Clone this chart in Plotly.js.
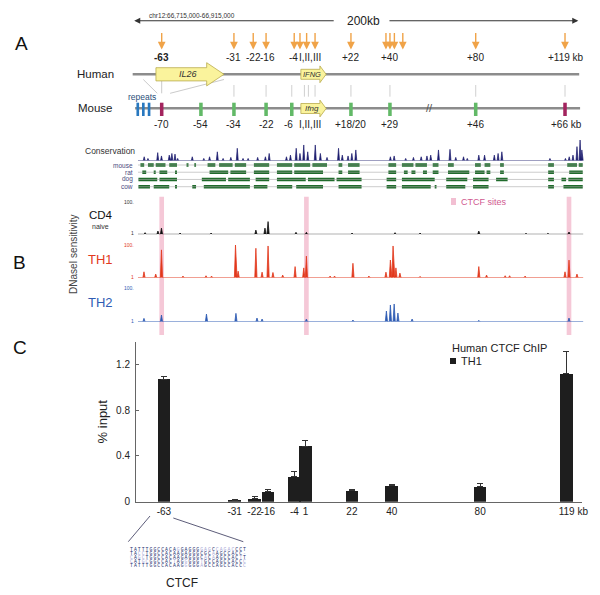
<!DOCTYPE html>
<html><head><meta charset="utf-8">
<script src="https://cdn.plot.ly/plotly-3.0.1.min.js"></script>
<style>html,body{margin:0;padding:0;background:#fff}#chart{width:600px;height:595px}</style>
</head><body><div id="chart"></div>
<script>
// ---------- Panel C: human CTCF ChIP (TH1), % input ----------
const chipSites  = [-63, -31, -22, -16, -4, 1, 22, 40, 80, 119];
const chipLabels = ['-63', '-31', '-22', '-16', '-4', '1', '22', '40', '80', '\u00A0\u00A0\u00A0\u00A0\u00A0119 kb'];
const chipTH1    = [1.07, 0.012, 0.026, 0.087, 0.218, 0.484, 0.096, 0.140, 0.131, 1.121];
const chipErr    = [0.023, 0.008, 0.021, 0.018, 0.044, 0.055, 0.014, 0.008, 0.024, 0.195];
const yTicks     = [0, 0.4, 0.8, 1.2];
const yTickText  = ['0', '0.4', '0.8', '1.2'];

// ---------- Panel A: map (kb relative to IFNG) ----------
const humanArrowKb = [-63, -30.4, -21.7, -15.9, -3.2, -0.6, 2.4, 6.2, 22.4, 38.2, 40.0, 42.0, 45.8, 78.7, 119];
const humanLabels  = ['<b>-63</b>', '-31', '-22', '-16', '-4', 'I,II,III', '+22', '+40', '+80', '+119 kb'];
const humanLabelKb = [-63, -30.4, -21.5, -15.3, -3.6, 3.9, 22.4, 40, 78.7, 119.5];
const homologyKb   = [-30.4, -15.9, -4.3, 1.4, 3.2, 6.2, 22.4, 40, 78.7, 119];
const repeatsKb    = [-73.8, -71.3, -68.7];
const mouseCtcfKb  = [-63, 119];
const mouseGreenKb = [-45.3, -30.4, -15.9, -4.3, 22.4, 40, 78.7];
const mouseLabels  = ['-70', '-54', '-34', '-22', '-6', 'I,II,III', '+18/20', '+29', '+46', '+66 kb'];
const mouseLabelKb = [-63, -45.3, -30.4, -15.9, -5.9, 3.9, 22.4, 40, 78.7, 119.5];

// ---------- Panel B: conservation + DNaseI tracks ----------
const consKb = [-70.9,-69.2,-64.8,-63.1,-59.6,-58.4,-57.0,-55.8,-49.2,-44.0,-41.4,-37.9,-35.3,-31.8,-28.9,-26.3,-24.0,-19.7,-16.2,-14.5,
  -6.7,-4.9,-2.3,-0.6,1.1,2.9,6.3,8.6,11.6,16.8,18.5,21.1,22.8,24.6,40.2,41.9,47.1,50.6,54.1,56.7,58.4,61.9,67.1,69.7,73.2,74.9,
  80.1,82.7,87.1,88.8,90.5,112.2,119.2,120.9,122.6,124.4,125.8,126.6];
const consH = [19,11,39,23,27,35,32,11,19,11,19,43,11,16,60,11,11,16,19,35,
  19,27,60,35,76,43,76,35,16,60,27,23,35,52,19,23,11,16,19,23,27,52,55,16,19,11,
  27,27,27,35,43,11,11,19,27,68,100,52];
const alignSpecies = ['mouse', 'rat', 'dog', 'cow'];
const mouseBlocks = [[-72.6,-70.9],[-69.2,-66.6],[-65.7,-61.3],[-59.6,-56.1],[-51.8,-50.9],[-48.3,-47.5],[-42.3,-38.8],[-37.1,-31],[-30,-24.9],
  [-21.4,-14.5],[-11.0,-4.1],[-3.2,4],[5,11.6],[16.8,18.5],[21.1,26.3],[39.3,42.8],[45.4,50.6],[51.5,56.7],[59.3,61.9],[66.2,68.8],
  [78.4,81.0],[82.7,85.3],[89.7,91.4],[111.4,114.0],[120.0,124.4],[125.2,127.0]];
const ratBlocks = [[-71.75,-70.0],[-66.6,-65.7],[-64.0,-60.5],[-57.0,-56.1],[-41.4,-33],[-32,-24.9],[-21.4,-14.5],[-11.0,-4.1],[-3.2,9.8],
  [16.8,18.5],[21.1,26.3],[39.3,42.8],[46.3,48.0],[49.7,51.5],[54.9,56.7],[59.3,61.9],[66.2,75.8],[78.4,82.7],[83.6,85.3],[89.7,91.4],
  [111.4,114.0],[120.9,127.0]];
const dogBlocks = [[-73.5,-65],[-64,-56.1],[-44.9,-34],[-33,-23.2],[-20.6,-14.5],[-11.0,2],[3,15.0],[15.9,27.2],[38.5,42.8],[45.4,60.2],
  [65.4,74.9],[77.5,84.5],[87.9,93.1],[111.4,114.0],[117.4,119.5],[120.5,127.0]];
const cowBlocks = [[-73.5,-68.3],[-66.6,-59.6],[-57.0,-56.1],[-49.2,-47.5],[-44.0,-23.2],[-21.4,-15.3],[-11.0,-4.1],[-2.3,9.8],[16.8,27.2],
  [38.5,42.8],[45.4,58.4],[60.2,61.0],[65.4,74.0],[77.5,84.5],[111.4,114.0],[118.3,127.0]];
const cd4Kb = [-70.5,-64.7,-63.1,-54.7,-40.7,-20.5,-16.4,-15.0,-2.4,2.3,22.9,42.3,53.6,80.1,101.4,111.3,120.8];
const cd4H  = [5,10,19,4,4,13,19,39,6,6,4,5,4,10,3,3,7];
const th1Kb = [-71.0,-65.7,-63.1,-53.4,-43,-40.5,-29.7,-28.5,-20.5,-17.7,-15.0,-12.8,-8.4,-2.8,1.1,2.3,13,15,23.3,30.5,
  38.2,40.2,41.4,42.7,44.5,53.6,80.1,83.6,92,94,101,119.0,120.8,124.4];
const th1H  = [18,11,85,5,6,5,100,20,90,17,97,16,8,34,30,66,5,5,44,5,17,54,97,30,14,4,34,8,6,6,5,18,54,11];
const th2Kb = [-71.0,-63.1,-42.8,-29.5,-20.0,-17.7,2.3,23.3,38.4,40.2,41.9,43.6,50.0,80.1,120.8];
const th2H  = [10,20,23,25,11,8,8,5,32,50,53,26,8,4,11];
const ctcfSitesKb = [-63, 2.3, 120.8];
const trackStart = -73.7, trackEnd = 127.2;

// ---------- Panel C inset alignment ----------
const seqSpecies = ['human', 'mouse', 'rat', 'dog', 'cow'];
const seqs = ['TATTTGGCCACAGGAGGGGAGCCAGACCCT', 'TACCTGGCCACAAGAGGGCGCAAGCCACC-', 'CAGCTGGCCACAAGAGGGCACAAGCCACTT',
              'CATGCGGCCACTAGGGGGTGCCAGCCACCC', 'TATTTGGCCACAAGGGGGAGCCAGCCACCC'];

// ================= layout helpers =================
const W = 600, H = 595;
const py = p => 1 - p / H;
const pxp = p => p / W;
const F = 'Liberation Sans, Arial, sans-serif';
const MONO = 'Liberation Mono, DejaVu Sans Mono, monospace';
const orange = '#f0a348', gray = '#8c8c8c';

function spikes(kb, h, hw) {
  const idx = kb.map((_, i) => i).sort((a, b) => kb[a] - kb[b]);
  const xs = [trackStart], ys = [0];
  idx.forEach(i => { xs.push(kb[i] - hw, kb[i], kb[i] + hw); ys.push(0, h[i], 0); });
  xs.push(trackEnd); ys.push(0);
  return {xs, ys};
}
function blocks(list, row) {
  const xs = [], ys = [];
  list.forEach(b => { xs.push(b[0], b[1], null); ys.push(row, row, null); });
  return {xs, ys};
}

const traces = [];
traces.push({type: 'bar', x: chipSites, y: chipTH1, width: 5.7, xaxis: 'x', yaxis: 'y', name: 'TH1',
  marker: {color: '#1e1e1e', line: {width: 0}}, showlegend: false, hoverinfo: 'skip',
  error_y: {type: 'data', symmetric: false, array: chipErr, arrayminus: chipErr.map(() => 0), color: '#333', thickness: 1, width: 3}});
const cs = spikes(consKb, consH, 0.45);
traces.push({type: 'scatter', mode: 'lines', x: cs.xs, y: cs.ys, xaxis: 'x2', yaxis: 'y2', fill: 'tozeroy',
  line: {color: '#1c1c6e', width: 0.7}, fillcolor: '#1c1c6e', showlegend: false, hoverinfo: 'skip'});
[mouseBlocks, ratBlocks, dogBlocks, cowBlocks].forEach((bl, i) => {
  const b = blocks(bl, i + 1);
  traces.push({type: 'scatter', mode: 'lines', x: b.xs, y: b.ys, xaxis: 'x2', yaxis: 'y6',
    line: {color: '#1f6b2b', width: 3.6}, showlegend: false, hoverinfo: 'skip', connectgaps: false});
});
[[cd4Kb, cd4H, '#111', 'y3'], [th1Kb, th1H, '#e2391d', 'y4'], [th2Kb, th2H, '#2f5cb4', 'y5']].forEach(t => {
  const s = spikes(t[0], t[1], 0.5);
  traces.push({type: 'scatter', mode: 'lines', x: s.xs, y: s.ys, xaxis: 'x2', yaxis: t[3], fill: 'tozeroy',
    line: {color: t[2], width: 0.8}, fillcolor: t[2], showlegend: false, hoverinfo: 'skip'});
});
// alignment letters as a text grid
const nCol = seqs[0].length;
const lx = [], ly = [], lt = [], lc = [];
seqs.forEach((s, r) => {
  for (let c = 0; c < nCol; c++) {
    const counts = {};
    seqs.forEach(q => counts[q[c]] = (counts[q[c]] || 0) + 1);
    const maj = Object.keys(counts).sort((a, b) => counts[b] - counts[a])[0];
    lx.push(c); ly.push(r); lt.push(s[c]); lc.push(s[c] === maj ? '#26306e' : '#a9a9d6');
  }
});
traces.push({type: 'scatter', mode: 'text', x: lx, y: ly, text: lt, xaxis: 'x3', yaxis: 'y7', textposition: 'middle center',
  textfont: {family: MONO, size: 4.8, color: lc}, showlegend: false, hoverinfo: 'skip', cliponaxis: false});
traces.push({type: 'scatter', mode: 'text', x: seqSpecies.map(() => -0.6), y: seqSpecies.map((_, i) => i), text: seqSpecies,
  xaxis: 'x3', yaxis: 'y7', textposition: 'middle left', textfont: {family: F, size: 3.8, color: '#333'},
  showlegend: false, hoverinfo: 'skip', cliponaxis: false});

const shapes = [], ann = [];
const txt = (text, x, y, o = {}) => ann.push(Object.assign({text, x, y, xref: 'paper', yref: 'paper', showarrow: false,
  xanchor: 'center', yanchor: 'middle', font: {family: F, size: 10, color: '#222'}}, o));
const gtxt = (text, kb, y, o = {}) => txt(text, kb, py(y), Object.assign({xref: 'x2'}, o));
const gline = (k0, y0, k1, y1, color, width) => shapes.push({type: 'line', xref: 'x2', yref: 'paper',
  x0: k0, x1: k1, y0: py(y0), y1: py(y1), line: {color, width}});
const grect = (k, hw, y0, y1, color) => shapes.push({type: 'rect', xref: 'x2', yref: 'paper',
  x0: k - hw, x1: k + hw, y0: py(y1), y1: py(y0), fillcolor: color, line: {width: 0}});
function geneArrow(k0, k1, tip, yc, bh, hh) {
  const p = (k, y) => k + ',' + py(y);
  shapes.push({type: 'path', xref: 'x2', yref: 'paper', fillcolor: '#faf39c', line: {color: '#b9ab4c', width: 0.8},
    path: 'M' + p(k0, yc - bh) + 'L' + p(k1, yc - bh) + 'L' + p(k1, yc - hh) + 'L' + p(tip, yc) + 'L' + p(k1, yc + hh) +
          'L' + p(k1, yc + bh) + 'L' + p(k0, yc + bh) + 'Z'});
}

// ---- Panel letters ----
txt('A', pxp(21), py(43.5), {font: {family: F, size: 19, color: '#111'}});
txt('B', pxp(19), py(262), {font: {family: F, size: 19, color: '#111'}});
txt('C', pxp(20), py(347), {font: {family: F, size: 19, color: '#111'}});

// ---- Panel A ----
txt('chr12:66,715,000-66,915,000', -49.3, py(15), {xref: 'x2', font: {family: F, size: 6.5, color: '#333'}});
gtxt('200kb', 27.9, 21, {font: {family: F, size: 12, color: '#222'}});
ann.push({text: '', xref: 'x2', yref: 'paper', x: -75.4, y: py(20.7), axref: 'x2', ax: 15.3, ayref: 'pixel', ay: 0,
  showarrow: true, arrowhead: 2, arrowsize: 1.1, arrowwidth: 1.1, arrowcolor: '#333'});
ann.push({text: '', xref: 'x2', yref: 'paper', x: 125.0, y: py(20.7), axref: 'x2', ax: 39.1, ayref: 'pixel', ay: 0,
  showarrow: true, arrowhead: 2, arrowsize: 1.1, arrowwidth: 1.1, arrowcolor: '#333'});
humanArrowKb.forEach(k => ann.push({text: '', xref: 'x2', yref: 'paper', x: k, y: py(49.5), ax: 0, ay: -18,
  showarrow: true, arrowhead: 2, arrowsize: 1.1, arrowwidth: 1.4, arrowcolor: orange}));
humanLabels.forEach((l, i) => gtxt(l, humanLabelKb[i], 58));
txt('Human', pxp(95), py(74.3), {font: {family: F, size: 11.5, color: '#222'}});
txt('Mouse', pxp(95), py(108.3), {font: {family: F, size: 11.5, color: '#222'}});
gline(-76.1, 74.3, 125.4, 74.3, gray, 2.4);
gline(-75.0, 108.3, 125.8, 108.3, gray, 2.4);
gline(-71.3, 79.5, -65.0, 93.3, '#bdbdbd', 0.8);
gline(-63, 79.5, -63, 93.3, '#bdbdbd', 0.8);
gline(-34.9, 79.5, -59.2, 93.3, '#bdbdbd', 0.8);
homologyKb.forEach(k => gline(k, 85, k, 96.7, '#c4c4c4', 0.8));
geneArrow(-65.6, -42.7, -34.9, 74.3, 6.6, 11.6);
geneArrow(-0.2, 8.4, 11.2, 74.3, 5.0, 8.4);
geneArrow(-0.2, 8.4, 11.2, 108.5, 5.0, 8.4);
gtxt('<i>IL26</i>', -51, 74.3, {font: {family: F, size: 9, color: '#333'}});
gtxt('<i>IFNG</i>', 4.8, 74.3, {font: {family: F, size: 7.5, color: '#333'}});
gtxt('<i>Ifng</i>', 4.8, 108.5, {font: {family: F, size: 8, color: '#333'}});
repeatsKb.forEach(k => grect(k, 0.6, 102.7, 116, '#2878bf'));
mouseCtcfKb.forEach(k => grect(k, 0.8, 102.7, 116, '#a3245e'));
mouseGreenKb.forEach(k => grect(k, 0.8, 102.7, 116, '#62b967'));
gtxt('repeats', -72.1, 96.7, {font: {family: F, size: 8.5, color: '#2b4f7a'}});
gtxt('//', 58, 108, {font: {family: F, size: 11, color: '#555'}});
mouseLabels.forEach((l, i) => gtxt(l, mouseLabelKb[i], 124.5));

// ---- Panel B ----
txt('Conservation', pxp(136.5), py(150.7), {xanchor: 'right', font: {family: F, size: 8.5, color: '#333'}});
alignSpecies.forEach((s, i) => {
  const y = 165 + i * 7.23;
  txt(s, pxp(134.6), py(y), {xanchor: 'right', font: {family: F, size: 6.5, color: '#4a4a80'}});
  gline(trackStart, y, trackEnd, y, '#aaaaaa', 0.6);
});
ctcfSitesKb.forEach(k => shapes.push({type: 'rect', xref: 'x2', yref: 'paper', x0: k - 1.05, x1: k + 1.05,
  y0: py(335), y1: py(196.7), fillcolor: '#f5c8d7', line: {width: 0}, layer: 'below'}));
shapes.push({type: 'rect', xref: 'paper', yref: 'paper', x0: pxp(451), x1: pxp(456), y0: py(205), y1: py(198),
  fillcolor: '#f2bfd2', line: {width: 0}});
txt('CTCF sites', pxp(458.5), py(201.7), {xanchor: 'left', font: {family: F, size: 9, color: '#d0588f'}});
txt('CD4', pxp(100.8), py(214.5), {font: {family: F, size: 11.5, color: '#111'}});
txt('naive', pxp(100.8), py(226), {font: {family: F, size: 7, color: '#333'}});
txt('TH1', pxp(100.8), py(259.3), {font: {family: F, size: 13, color: '#e2391d'}});
txt('TH2', pxp(100.8), py(302.7), {font: {family: F, size: 13, color: '#2f5cb4'}});
[[201.7, 234.3, '#333'], [245, 277.7, '#e2391d'], [288.3, 321.7, '#2f5cb4']].forEach(t => {
  txt('100.', pxp(136), py(t[0]), {xanchor: 'right', font: {family: F, size: 5, color: t[2]}});
  txt('1', pxp(136), py(t[1] - 1), {xanchor: 'right', font: {family: F, size: 5, color: t[2]}});
});
txt('DNaseI sensitivity', pxp(73), py(255), {textangle: -90, font: {family: F, size: 10, color: '#444'}});

// ---- Panel C extras ----
txt('Human CTCF ChIP', pxp(450), py(348.3), {xanchor: 'left', font: {family: F, size: 11, color: '#222'}});
shapes.push({type: 'rect', xref: 'paper', yref: 'paper', x0: pxp(450), x1: pxp(456), y0: py(364), y1: py(358),
  fillcolor: '#1e1e1e', line: {width: 0}});
txt('TH1', pxp(459), py(361.3), {xanchor: 'left', font: {family: F, size: 11, color: '#222'}});
shapes.push({type: 'line', xref: 'paper', yref: 'paper', x0: pxp(150), y0: py(516), x1: pxp(128.3), y1: py(541.7),
  line: {color: '#4a4a6a', width: 0.9}});
shapes.push({type: 'line', xref: 'paper', yref: 'paper', x0: pxp(173.3), y0: py(518), x1: pxp(243.3), y1: py(541.7),
  line: {color: '#4a4a6a', width: 0.9}});
txt('CTCF', pxp(181.7), py(582.7), {font: {family: F, size: 12, color: '#222'}});

const hidden = {visible: false, fixedrange: true};
const layout = {
  width: W, height: H, margin: {l: 0, r: 0, t: 0, b: 0}, paper_bgcolor: '#fff', plot_bgcolor: 'rgba(0,0,0,0)',
  showlegend: false, font: {family: F, size: 10, color: '#222'}, bargap: 0,
  xaxis: {domain: [pxp(136), pxp(581.7)], range: [-75.6, 125.9], anchor: 'y', tickmode: 'array', tickvals: chipSites,
    ticktext: chipLabels, tickangle: 0, ticks: '', showline: true, linecolor: '#666', linewidth: 1, showgrid: false,
    zeroline: false, tickfont: {family: F, size: 10, color: '#222'}, fixedrange: true},
  yaxis: {domain: [py(501.7), py(341.7)], range: [0, 1.4], anchor: 'x', tickmode: 'array', tickvals: yTicks, ticktext: yTickText,
    ticks: 'inside', ticklen: 3, tickcolor: '#666', showline: true, linecolor: '#666', linewidth: 1, showgrid: false,
    zeroline: false, tickfont: {family: F, size: 10, color: '#222'}, ticklabelstandoff: 3,
    title: {text: '% input', font: {family: F, size: 13, color: '#222'}, standoff: 5}, fixedrange: true},
  xaxis2: Object.assign({domain: [0, 1], range: [-135.97, 134.79], anchor: 'y2'}, hidden),
  yaxis2: Object.assign({domain: [py(160.7), py(140)], range: [0, 100], anchor: 'x2'}, hidden),
  yaxis3: Object.assign({domain: [py(234.3), py(201.7)], range: [0, 100], anchor: 'x2'}, hidden),
  yaxis4: Object.assign({domain: [py(277.7), py(245)], range: [0, 100], anchor: 'x2'}, hidden),
  yaxis5: Object.assign({domain: [py(321.7), py(288.3)], range: [0, 100], anchor: 'x2'}, hidden),
  yaxis6: Object.assign({domain: [py(190.3), py(161.4)], range: [4.5, 0.5], anchor: 'x2'}, hidden),
  xaxis3: Object.assign({domain: [pxp(129.5), pxp(246.5)], range: [-0.5, nCol - 0.5], anchor: 'y7'}, hidden),
  yaxis7: Object.assign({domain: [py(568.4), py(547.2)], range: [4.5, -0.5], anchor: 'x3'}, hidden),
  shapes, annotations: ann
};
Plotly.newPlot('chart', traces, layout, {staticPlot: true, displayModeBar: false});
</script></body></html>
